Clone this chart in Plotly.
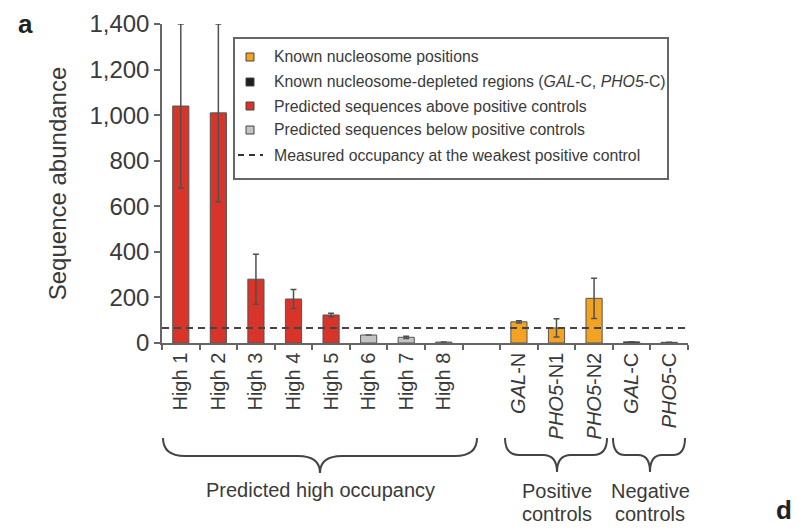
import plotly.graph_objects as go

# ---------------- data ----------------
categories = ["High 1", "High 2", "High 3", "High 4", "High 5", "High 6", "High 7", "High 8",
              " ",
              "<i>GAL</i>-N", "<i>PHO5</i>-N1", "<i>PHO5</i>-N2", "<i>GAL</i>-C", "<i>PHO5</i>-C"]
abundance = [1040, 1010, 280, 193, 123, 35, 25, 4, None, 93, 66, 196, 5, 3]
abundance_err = [360, 390, 110, 42, 8, None, 5, None, None, 5, 40, 88, None, None]
groups = ["above"] * 5 + ["below"] * 3 + [None] + ["known"] * 3 + ["depleted"] * 2
weakest_positive = 66
y_ticks = [0, 200, 400, 600, 800, 1000, 1200, 1400]

legend_labels = [
    "Known nucleosome positions",
    "Known nucleosome-depleted regions (<i>GAL</i>-C, <i>PHO5</i>-C)",
    "Predicted sequences above positive controls",
    "Predicted sequences below positive controls",
    "Measured occupancy at the weakest positive control",
]
legend_groups = ["known", "depleted", "above", "below", None]

# ---------------- styles ----------------
COLORS = {"above": "#d9342a", "below": "#c4c4c4", "known": "#f2a321", "depleted": "#1e1e1e", None: "rgba(0,0,0,0)"}
TXT = "#3a3a3a"
AX = "#666666"
FONT = "Liberation Sans, Arial, Helvetica, sans-serif"

W, H = 799, 528
OFF = 8  # page body margin offset
L, R, T, B = 162, 688, 24, 343  # plot area in window pixels


def px(x):
    return (x - L) / (R - L)


def py(y):
    return (B - y) / (B - T)


fig = go.Figure()
fig.add_trace(go.Bar(
    x=categories, y=abundance, width=0.43,
    marker=dict(color=[COLORS[g] for g in groups], line=dict(color="#555555", width=1)),
    error_y=dict(type="data", array=abundance_err, color="#505050", thickness=1.5, width=3),
    showlegend=False, cliponaxis=False,
))

shapes = []
shapes.append(dict(type="line", xref="paper", x0=0, x1=1, yref="y", y0=weakest_positive, y1=weakest_positive,
                   line=dict(color="#444444", width=2, dash="7px,5px"), layer="above"))

# legend box
shapes.append(dict(type="rect", xref="paper", yref="paper", x0=px(234), x1=px(668), y0=py(38), y1=py(179),
                   line=dict(color="#666666", width=2), fillcolor="white", layer="above"))
rows = [57, 82, 106, 130, 155]
annotations = []
for lab, g, ry in zip(legend_labels, legend_groups, rows):
    if g is not None:
        shapes.append(dict(type="rect", xref="paper", yref="paper",
                           x0=px(246), x1=px(254), y0=py(ry - 4), y1=py(ry + 4),
                           fillcolor=COLORS[g], line=dict(color="#444444", width=1), layer="above"))
    else:
        shapes.append(dict(type="line", xref="paper", yref="paper",
                           x0=px(238), x1=px(263), y0=py(ry), y1=py(ry),
                           line=dict(color="#333333", width=2, dash="6px,5px"), layer="above"))
    annotations.append(dict(text=lab, xref="paper", yref="paper", x=px(272), y=py(ry),
                            xanchor="left", yanchor="middle", showarrow=False,
                            font=dict(size=15.8, color=TXT, family=FONT)))


def brace(x0, x1, xc, ytop, ymid, ytip, r):
    pts = [
        f"M {px(x0)},{py(ytop)}",
        f"Q {px(x0)},{py(ymid)} {px(x0 + r)},{py(ymid)}",
        f"L {px(xc - r)},{py(ymid)}",
        f"Q {px(xc)},{py(ymid)} {px(xc)},{py(ytip)}",
        f"Q {px(xc)},{py(ymid)} {px(xc + r)},{py(ymid)}",
        f"L {px(x1 - r)},{py(ymid)}",
        f"Q {px(x1)},{py(ymid)} {px(x1)},{py(ytop)}",
    ]
    return dict(type="path", xref="paper", yref="paper", path=" ".join(pts),
                line=dict(color="#444444", width=2))


shapes.append(brace(163, 477, 320, 438, 456, 473, 22))
shapes.append(brace(505, 607, 557, 438, 455, 472, 14))
shapes.append(brace(613, 685, 650, 438, 455, 472, 12))

for text, x, y in [("Predicted high occupancy", 320, 490),
                   ("Positive", 557, 491), ("controls", 557, 514),
                   ("Negative", 650, 491), ("controls", 650, 514)]:
    annotations.append(dict(text=text, xref="paper", yref="paper", x=px(x), y=py(y),
                            xanchor="center", yanchor="middle", showarrow=False,
                            font=dict(size=20, color=TXT, family=FONT)))

annotations.append(dict(text="<b>a</b>", xref="paper", yref="paper", x=px(25), y=py(24),
                        xanchor="center", yanchor="middle", showarrow=False,
                        font=dict(size=26, color="#222222", family=FONT)))
annotations.append(dict(text="<b>d</b>", xref="paper", yref="paper", x=px(784), y=py(510),
                        xanchor="center", yanchor="middle", showarrow=False,
                        font=dict(size=26, color="#222222", family=FONT)))

fig.update_layout(
    width=W - OFF, height=H - OFF,
    margin=dict(l=L - OFF, r=W - R, t=T - OFF, b=H - B),
    paper_bgcolor="white", plot_bgcolor="white",
    font=dict(family=FONT, color=TXT),
    shapes=shapes, annotations=annotations,
    bargap=0.57,
)
fig.update_xaxes(
    type="category", categoryorder="array", categoryarray=categories,
    range=[-0.5, len(categories) - 0.5], tickson="boundaries",
    ticks="outside", ticklen=5, tickwidth=1.5, tickcolor=AX,
    showline=True, linecolor=AX, linewidth=1.5, showgrid=False,
    tickangle=-90, tickfont=dict(size=20, color=TXT), automargin=False,
)
fig.update_yaxes(
    range=[0, 1400], tickvals=y_ticks, tickformat=",",
    ticks="outside", ticklen=6, tickwidth=1.5, tickcolor=AX,
    showline=True, linecolor=AX, linewidth=1.5, showgrid=False, zeroline=False,
    tickfont=dict(size=24, color=TXT),
    title=dict(text="Sequence abundance", font=dict(size=24, color=TXT), standoff=16),
    automargin=False,
)

fig.write_html("out.html")
